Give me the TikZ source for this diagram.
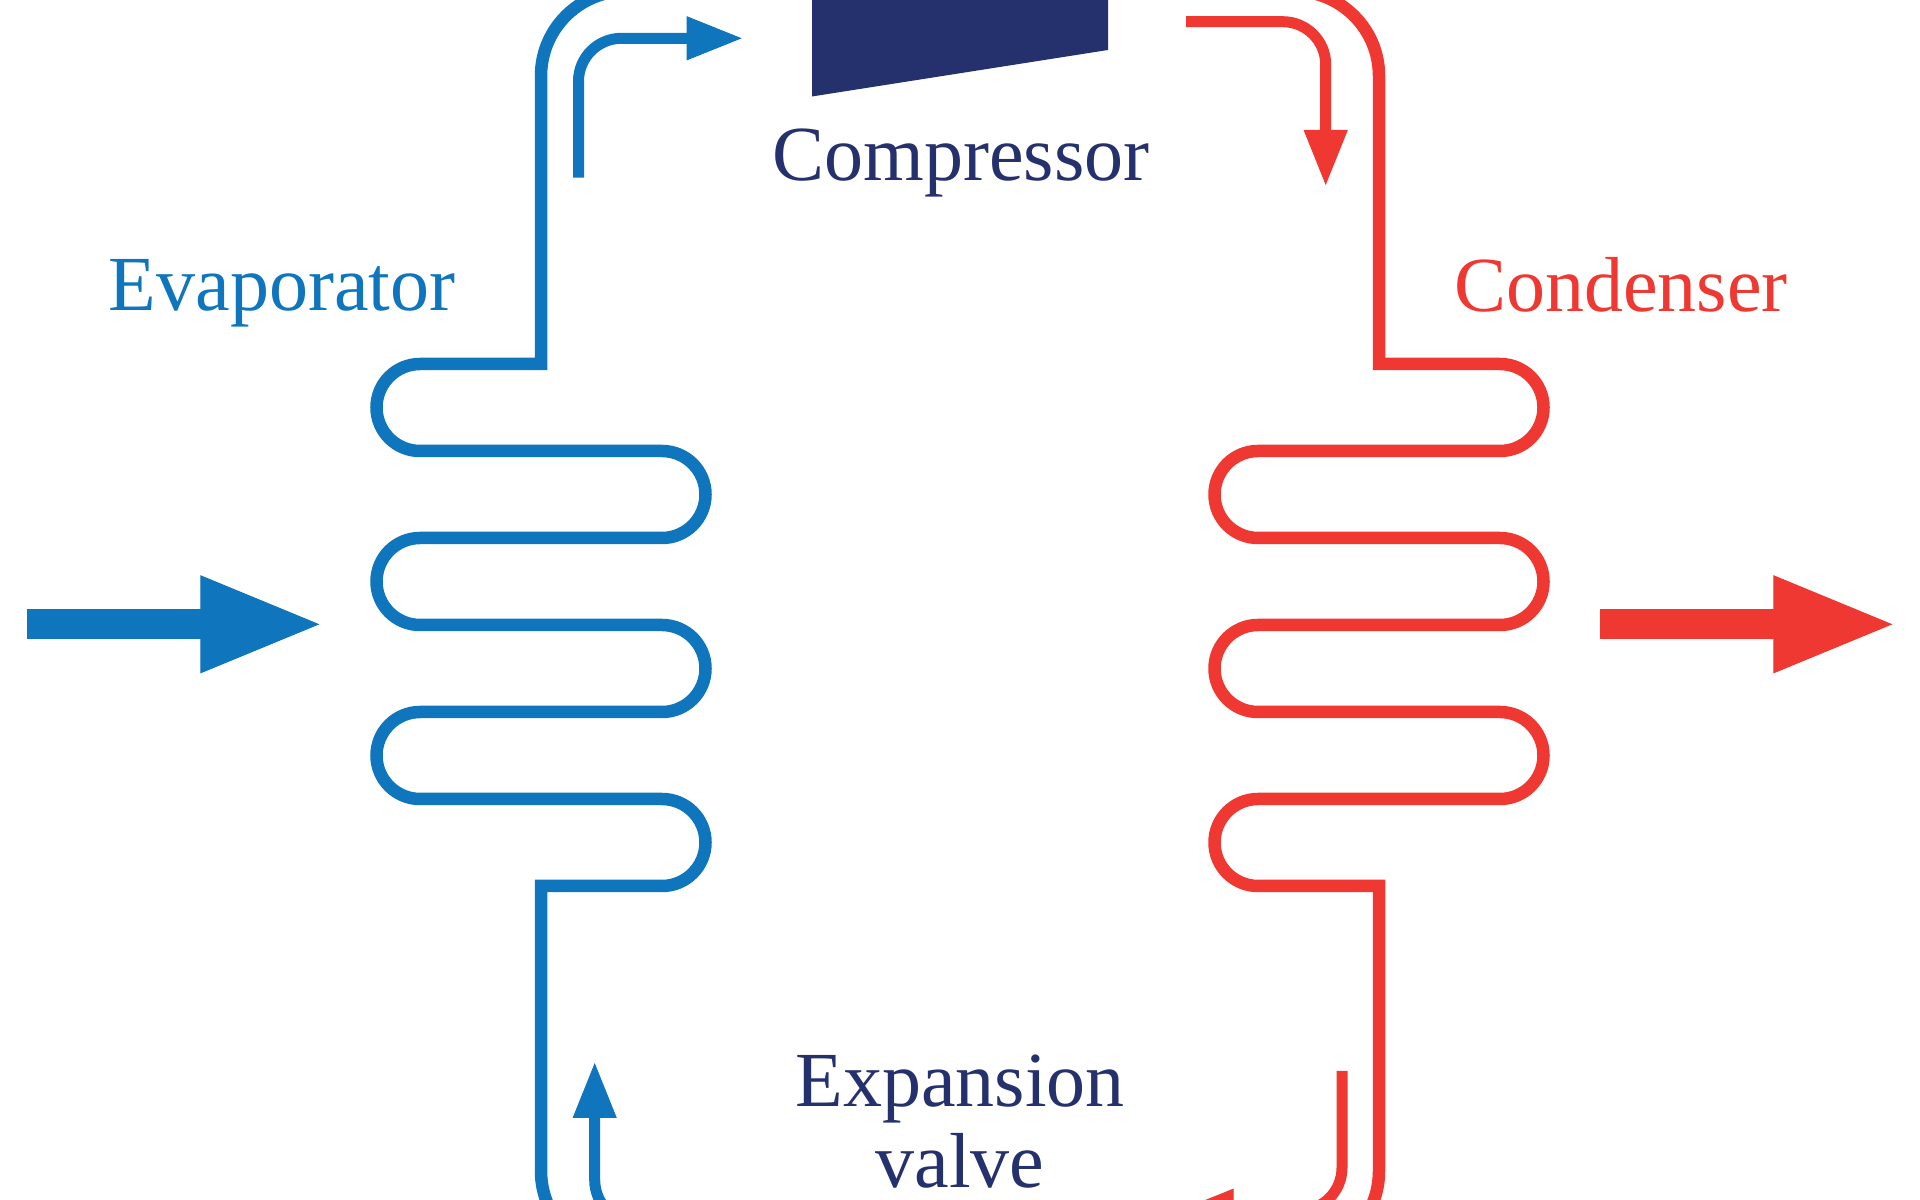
\documentclass[tikz,border=0pt]{standalone}
\usepackage{fontspec}
\setmainfont{Liberation Serif}
\usetikzlibrary{arrows.meta}

\definecolor{coldblue}{HTML}{0F75BC}
\definecolor{hotred}{HTML}{EE3831}
\definecolor{navy}{HTML}{25316C}

\begin{document}
\begin{tikzpicture}[
        x=0.02cm,
        y=0.02cm,
        pipe/.style={line width=0.25cm},
        flow/.style={line width=0.22cm, rounded corners=0.86cm, -{Triangle[length=1.1cm,width=0.88cm,line width=0.5pt]}},
        bigflow/.style={line width=0.6cm, -{Triangle[length=2.38cm,width=1.96cm,line width=0.5pt]}},
        label/.style={font=\fontsize{44.4}{46.5}\selectfont, inner sep=0pt, anchor=base}
        ]
        \useasboundingbox (0,0) rectangle (1920,1200);
        \clip (0,0) rectangle (1920,1200);

        % compressor body
        \fill[navy] (812,1210) -- (812,1103.5) -- (1108,1150) -- (1108,1210) -- cycle;

        \node[label, text=navy] (compressor) at (961,1019) {Compressor};
        \node[label, text=navy, align=center] (expansion) at (960,12) {Expansion\\valve};
        \node[label, text=coldblue] (evaporator) at (282,889) {Evaporator};
        \node[label, text=hotred] (condenser) at (1621,888) {Condenser};

        % evaporator pipe
        \draw[pipe, coldblue] (626,1209) arc[start angle=90, end angle=180, radius=85]
              -- (541,836) -- (420,836)
              arc[start angle=90, end angle=270, radius=43.5] -- (662,749)
              arc[start angle=90, end angle=-90, radius=43.5] -- (420,662)
              arc[start angle=90, end angle=270, radius=43.5] -- (662,575)
              arc[start angle=90, end angle=-90, radius=43.5] -- (420,488)
              arc[start angle=90, end angle=270, radius=43.5] -- (662,401)
              arc[start angle=90, end angle=-90, radius=43.5] -- (541,314)
              -- (541,29) arc[start angle=180, end angle=270, radius=85];

        % condenser pipe
        \draw[pipe, hotred] (1294,1209) arc[start angle=90, end angle=0, radius=85]
              -- (1379,836) -- (1500,836)
              arc[start angle=90, end angle=-90, radius=43.5] -- (1258,749)
              arc[start angle=90, end angle=270, radius=43.5] -- (1500,662)
              arc[start angle=90, end angle=-90, radius=43.5] -- (1258,575)
              arc[start angle=90, end angle=270, radius=43.5] -- (1500,488)
              arc[start angle=90, end angle=-90, radius=43.5] -- (1258,401)
              arc[start angle=90, end angle=270, radius=43.5] -- (1379,314)
              -- (1379,29) arc[start angle=0, end angle=-90, radius=85];

        % flow arrows
        \coordinate (suctionstart) at (578.5,1022.3);
        \coordinate (suctionend) at (741.7,1161.7);
        \coordinate (dischargestart) at (1186,1178.3);
        \coordinate (dischargeend) at (1325.7,1015);
        \coordinate (liquidstart) at (1342,129);
        \coordinate (liquidend) at (1178.6,-10.7);
        \coordinate (returnstart) at (700,-23);
        \coordinate (returnend) at (594.7,137);
        \draw[flow, coldblue] (suctionstart) |- (suctionend);
        \draw[flow, hotred] (dischargestart) -| (dischargeend);
        \draw[flow, hotred] (liquidstart) |- (liquidend);
        \draw[flow, coldblue] (returnstart) -| (returnend);

        % heat in and out
        \coordinate (heatinstart) at (27,575.7);
        \coordinate (heatinend) at (319.4,575.7);
        \coordinate (heatoutstart) at (1600,575.7);
        \coordinate (heatoutend) at (1892.4,575.7);
        \draw[bigflow, coldblue] (heatinstart) -- (heatinend);
        \draw[bigflow, hotred] (heatoutstart) -- (heatoutend);
\end{tikzpicture}
\end{document}
